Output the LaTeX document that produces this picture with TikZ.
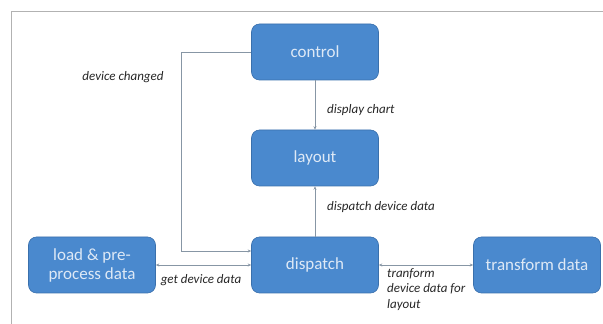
\documentclass[tikz,border=0pt]{standalone}
\usepackage{fontspec}
\setmainfont{Carlito}
\usepackage{tikz}
\usetikzlibrary{arrows.meta}
\definecolor{boxblue}{RGB}{74,137,206}
\definecolor{boxedge}{RGB}{58,112,172}
\definecolor{boxtext}{RGB}{222,233,246}
\definecolor{linkgray}{RGB}{135,150,165}
\begin{document}
\begin{tikzpicture}[x=1pt,y=1pt,
  blockbox/.style={draw=boxedge,fill=boxblue,rounded corners=8pt,minimum width=127pt,minimum height=56pt,
    text=boxtext,font=\fontsize{17}{19}\selectfont,align=center,line width=0.6pt},
  link/.style={draw=linkgray,line width=0.6pt,-{Stealth[length=3.5pt,width=3pt]}},
  linktwo/.style={draw=linkgray,line width=0.6pt,{Stealth[length=3.5pt,width=3pt]}-{Stealth[length=3.5pt,width=3pt]}},
  lbl/.style={font=\fontsize{13}{15.5}\selectfont\itshape,text=black!85,inner sep=0pt}]
\useasboundingbox (0,0) rectangle (603,324);
\draw[gray!60,line width=0.8pt] (11,-20) -- (11,313) -- (640,313);
\node[blockbox] (control) at (315,272) {control};
\node[blockbox] (layout) at (315,166) {layout};
\node[blockbox] (dispatch) at (315,59) {dispatch};
\node[blockbox] (load) at (92,59) {load \& pre-\\process data};
\node[blockbox] (transform) at (537,59) {transform data};
\coordinate (bend) at (181,272);
\draw[link] (control.west) -- (bend) |- ([yshift=14pt]dispatch.west);
\draw[link] (control) -- (layout);
\draw[link] (dispatch) -- (layout);
\draw[linktwo] (load) -- (dispatch);
\draw[linktwo] (dispatch) -- (transform);
\node[lbl] (devchanged) at (123,247) {device changed};
\node[lbl,anchor=west] (dispchart) at (327,214) {display chart};
\node[lbl,anchor=west] (dispdata) at (327,117) {dispatch device data};
\node[lbl] (getdata) at (201,44) {get device data};
\node[lbl,anchor=north west,align=left] (trandata) at (387,56) {tranform\\device data for\\layout};
\end{tikzpicture}
\end{document}
